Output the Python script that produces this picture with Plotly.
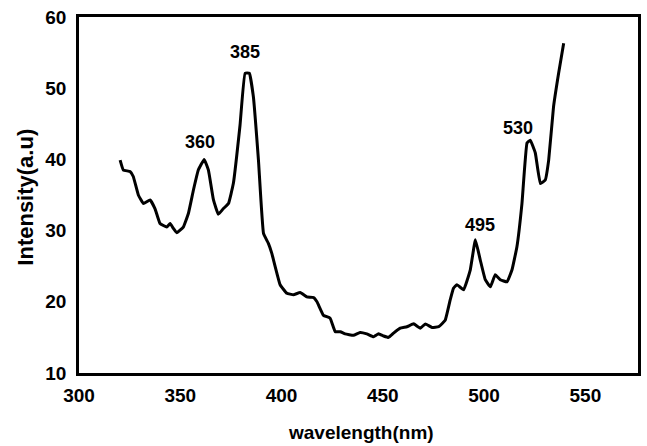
import plotly.graph_objects as go

wavelength = [320.3, 321.9, 325.2, 326.8, 329.3, 331.8, 335.1, 337.5, 340.0, 343.3, 345.0, 346.6,
              348.3, 351.5, 354.0, 356.5, 358.9, 361.8, 363.9, 366.4, 368.8, 371.3, 373.8, 376.2,
              379.5, 382.0, 384.1, 386.1, 388.6, 391.1, 393.5, 395.2, 399.3, 402.6, 405.9, 409.2,
              412.5, 415.8, 417.5, 420.7, 424.0, 426.5, 429.0, 431.4, 435.5, 438.8, 442.1, 445.4,
              447.9, 450.4, 452.8, 455.3, 458.6, 461.9, 465.2, 468.5, 471.0, 474.3, 477.6, 480.8,
              483.3, 484.9, 486.6, 489.9, 493.2, 495.7, 498.1, 500.6, 503.1, 505.5, 508.0, 511.3,
              513.8, 516.2, 518.7, 521.2, 522.8, 525.3, 527.8, 530.2, 531.9, 534.3, 536.8, 539.3]
intensity = [39.9, 38.5, 38.3, 37.6, 35.0, 33.8, 34.3, 33.1, 31.0, 30.5, 31.0, 30.3,
             29.7, 30.5, 32.4, 35.7, 38.5, 40.0, 38.5, 34.3, 32.3, 33.1, 33.8, 36.6,
             44.8, 52.1, 52.1, 48.8, 39.9, 29.6, 28.2, 26.8, 22.4, 21.2, 21.0, 21.3,
             20.7, 20.6, 20.0, 18.1, 17.7, 15.8, 15.8, 15.5, 15.3, 15.7, 15.5, 15.1,
             15.5, 15.2, 15.0, 15.6, 16.3, 16.5, 16.9, 16.3, 16.9, 16.4, 16.5, 17.4,
             20.3, 21.9, 22.4, 21.7, 24.5, 28.7, 25.9, 23.1, 22.1, 23.8, 23.1, 22.8,
             24.5, 27.7, 33.8, 42.3, 42.7, 40.9, 36.6, 37.1, 39.9, 47.4, 52.1, 56.3]

peak_labels = ["360", "385", "495", "530"]
peak_x = [359.8, 382.0, 498.1, 516.9]
peak_y = [42.5, 55.1, 30.8, 44.4]

x_ticks = [300, 350, 400, 450, 500, 550]
y_ticks = [10, 20, 30, 40, 50, 60]

FONT = "Arial, Liberation Sans"

fig = go.Figure()
fig.add_trace(go.Scatter(x=wavelength, y=intensity, mode="lines",
                         line=dict(color="black", width=3, shape="spline", smoothing=0.3),
                         showlegend=False, hoverinfo="skip"))

for lab, px, py in zip(peak_labels, peak_x, peak_y):
    fig.add_annotation(x=px, y=py, text=lab, showarrow=False,
                       font=dict(family=FONT, size=18, color="black", weight="bold"))

fig.add_annotation(xref="paper", yref="paper", x=0.505, y=-0.202, xanchor="center", yanchor="bottom",
                   text="wavelength(nm)", showarrow=False,
                   font=dict(family=FONT, size=19, color="black", weight="bold"))
fig.add_annotation(xref="paper", yref="paper", x=-0.095, y=0.495, xanchor="center", yanchor="middle",
                   textangle=-90, text="Intensity(a.u)", showarrow=False,
                   font=dict(family=FONT, size=22, color="black", weight="bold"))

axis_font = dict(family=FONT, size=19, color="black", weight="bold")
fig.update_layout(
    width=647, height=446,
    margin=dict(l=79, r=9, t=17, b=73, autoexpand=False),
    paper_bgcolor="white", plot_bgcolor="white",
    xaxis=dict(range=[300, 576], tickvals=x_ticks, showgrid=False, zeroline=False,
               showline=True, mirror=True, linecolor="black", linewidth=2.5,
               ticks="", tickfont=axis_font, ticklabelstandoff=3, automargin=False),
    yaxis=dict(range=[10, 60], tickvals=y_ticks, showgrid=False, zeroline=False,
               showline=True, mirror=True, linecolor="black", linewidth=2.5,
               ticks="", tickfont=axis_font, ticklabelstandoff=6, automargin=False),
)

fig.write_html("out.html", config={"displayModeBar": False},
               post_script="document.body.style.margin='0';document.body.style.overflow='hidden';")
